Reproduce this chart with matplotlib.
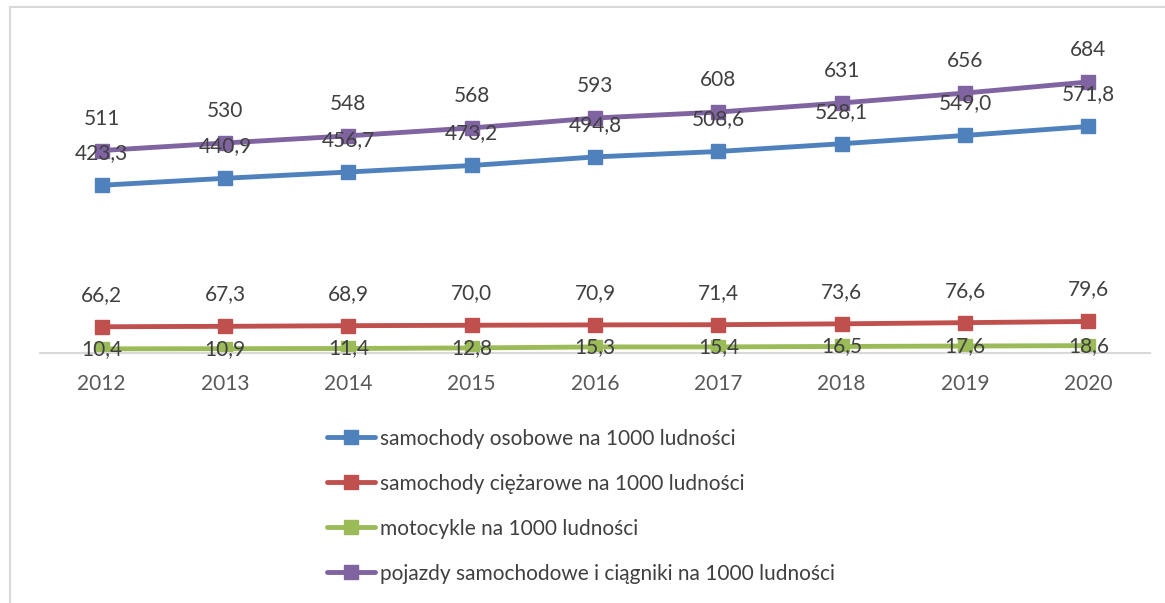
import matplotlib.pyplot as plt
from matplotlib.patches import Rectangle

plt.rcParams['font.family'] = ['Lato', 'DejaVu Sans']

years = ['2012', '2013', '2014', '2015', '2016', '2017', '2018', '2019', '2020']
osobowe = [423.3, 440.9, 456.7, 473.2, 494.8, 508.6, 528.1, 549.0, 571.8]
ciezarowe = [66.2, 67.3, 68.9, 70.0, 70.9, 71.4, 73.6, 76.6, 79.6]
motocykle = [10.4, 10.9, 11.4, 12.8, 15.3, 15.4, 16.5, 17.6, 18.6]
pojazdy = [511, 530, 548, 568, 593, 608, 631, 656, 684]

names = ['samochody osobowe na 1000 ludności',
         'samochody ciężarowe na 1000 ludności',
         'motocykle na 1000 ludności',
         'pojazdy samochodowe i ciągniki na 1000 ludności']
colors = ['#4F81BD', '#C0504D', '#9BBB59', '#8064A2']

fig = plt.figure(figsize=(11.65, 6.03), dpi=100)
fig.patches.append(Rectangle((10 / 1165, -0.1), 1.2, 1 - 7 / 603 + 0.1, transform=fig.transFigure,
                             fill=False, edgecolor='#D9D9D9', linewidth=1.5))
ax = fig.add_axes([40 / 1165, 1 - 353 / 603, 1110 / 1165, 317 / 603])

x = list(range(len(years)))
series = [osobowe, ciezarowe, motocykle, pojazdy]
for vals, name, c in zip(series, names, colors):
    ax.plot(x, vals, color=c, linewidth=3.5, marker='s', markersize=10, label=name,
            solid_capstyle='round')

fs = 15
txt = dict(fontsize=fs, color='#404040', ha='center')
for vals, fmt in [(osobowe, '{:.1f}'), (ciezarowe, '{:.1f}'), (pojazdy, '{:.0f}')]:
    for i, v in enumerate(vals):
        ax.annotate(fmt.format(v).replace('.', ','), (i, v), xytext=(0, 23),
                    textcoords='offset points', va='center', **txt)
for i, v in enumerate(motocykle):
    ax.annotate('{:.1f}'.format(v).replace('.', ','), (i, v), xytext=(0, 0),
                textcoords='offset points', va='center', **txt)

ax.set_xlim(-0.5, 8.5)
ax.set_ylim(0, 800)
ax.set_yticks([])
ax.set_xticks(x)
ax.set_xticklabels(years, fontsize=fs, color='#595959')
ax.tick_params(axis='x', length=0, pad=15)
for s in ['top', 'right', 'left']:
    ax.spines[s].set_visible(False)
ax.spines['bottom'].set_color('#D9D9D9')
ax.spines['bottom'].set_linewidth(1.5)

leg = fig.legend(loc='upper left', bbox_to_anchor=(308 / 1165, 1 - 410 / 603), frameon=False,
                 fontsize=fs, handlelength=2.3, handletextpad=0.25, labelspacing=1.2)
for t in leg.get_texts():
    t.set_color('#404040')

fig.savefig('out.png', dpi=100)
